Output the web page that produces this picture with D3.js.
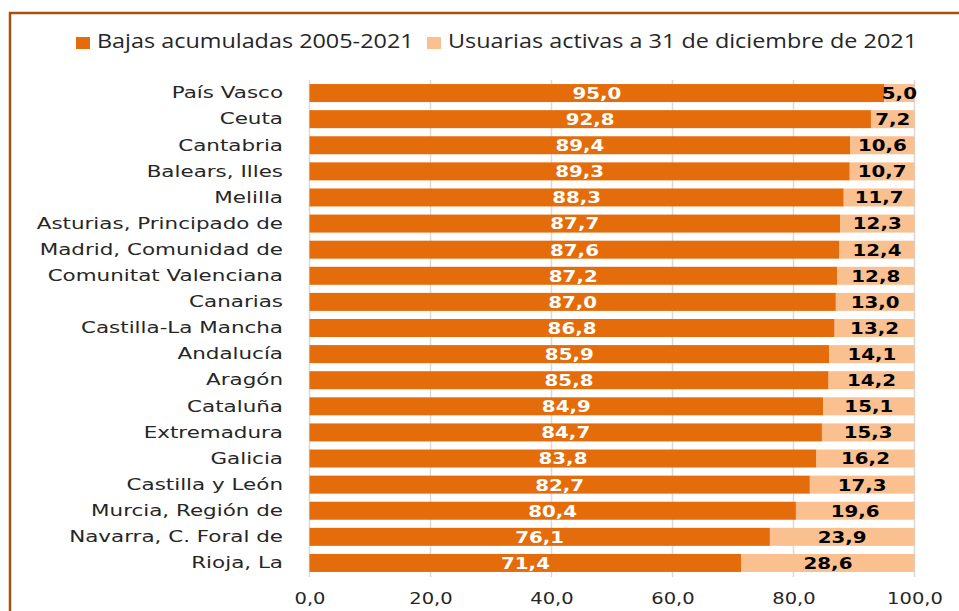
<!DOCTYPE html>
<html><head><meta charset="utf-8">
<script src="https://cdn.jsdelivr.net/npm/d3@7"></script>
<style>body{margin:0;background:#fff}svg{display:block}</style>
</head><body>
<script>
const categories = ["País Vasco","Ceuta","Cantabria","Balears, Illes","Melilla","Asturias, Principado de","Madrid, Comunidad de","Comunitat Valenciana","Canarias","Castilla-La Mancha","Andalucía","Aragón","Cataluña","Extremadura","Galicia","Castilla y León","Murcia, Región de","Navarra, C. Foral de","Rioja, La"];
const bajas = [95.0,92.8,89.4,89.3,88.3,87.7,87.6,87.2,87.0,86.8,85.9,85.8,84.9,84.7,83.8,82.7,80.4,76.1,71.4];
const activas = [5.0,7.2,10.6,10.7,11.7,12.3,12.4,12.8,13.0,13.2,14.1,14.2,15.1,15.3,16.2,17.3,19.6,23.9,28.6];
const seriesNames = ["Bajas acumuladas 2005-2021","Usuarias activas a 31 de diciembre de 2021"];
const tickValues = [0,20,40,60,80,100];

const W=959,H=611;
const colors=["#E46C0A","#FAC090"];
const svg=d3.select("body").append("svg").attr("width",W).attr("height",H);
svg.append("rect").attr("width",W).attr("height",H).attr("fill","#fff");
// border
svg.append("path").attr("d",`M10,${H+5} L10,13 L${W+5},13`).attr("fill","none").attr("stroke","#A5520F").attr("stroke-width",2.5);

const x=d3.scaleLinear().domain([0,100]).range([309.5,914.5]);
const y=d3.scaleBand().domain(categories).range([80,576]).paddingInner(0.31).paddingOuter(0.155);
const fmt=v=>v.toFixed(1).replace(".",",");

function stretch(sel,sx){
  sel.each(function(){
    const t=d3.select(this);
    const px=+t.attr("x")||0;
    t.attr("transform",`translate(${px},0) scale(${sx},1) translate(${-px},0)`);
  });
}

// gridlines
svg.append("g").selectAll("line").data(tickValues).join("line")
 .attr("x1",d=>x(d)).attr("x2",d=>x(d)).attr("y1",80).attr("y2",577)
 .attr("stroke","#D9D9D9").attr("stroke-width",1.5);

const g=svg.append("g");
const data=categories.map((c,i)=>({c,a:bajas[i],b:activas[i]}));
g.selectAll("rect.a").data(data).join("rect").attr("class","a")
 .attr("x",x(0)).attr("y",d=>y(d.c)).attr("width",d=>x(d.a)-x(0)).attr("height",y.bandwidth()).attr("fill",colors[0]);
g.selectAll("rect.b").data(data).join("rect").attr("class","b")
 .attr("x",d=>x(d.a)).attr("y",d=>y(d.c)).attr("width",d=>x(d.a+d.b)-x(d.a)).attr("height",y.bandwidth()).attr("fill",colors[1]);

const vf="'DejaVu Sans', Verdana, sans-serif";
g.selectAll("text.a").data(data).join("text").attr("class","a")
 .attr("x",d=>(x(0)+x(d.a))/2).attr("y",d=>y(d.c)+y.bandwidth()/2).attr("dy","0.37em")
 .attr("text-anchor","middle").attr("fill","#fff").attr("font-weight","bold")
 .attr("font-family",vf).attr("font-size",16).text(d=>fmt(d.a)).call(stretch,1.24);
g.selectAll("text.b").data(data).join("text").attr("class","b")
 .attr("x",d=>(x(d.a)+x(d.a+d.b))/2).attr("y",d=>y(d.c)+y.bandwidth()/2).attr("dy","0.37em")
 .attr("text-anchor","middle").attr("fill","#000").attr("font-weight","bold")
 .attr("font-family",vf).attr("font-size",16).text(d=>fmt(d.b)).call(stretch,1.24);

// y axis labels
const ya=svg.append("g").attr("transform",`translate(${x(0)-26.5},0)`)
 .call(d3.axisLeft(y).tickSize(0).tickPadding(0));
ya.select(".domain").remove();
ya.selectAll("text").attr("font-family",vf).attr("font-size",16.5).attr("fill","#262626").call(stretch,1.3);

// x axis
const xa=svg.append("g").attr("transform",`translate(0,592)`)
 .call(d3.axisBottom(x).tickValues(tickValues).tickFormat(fmt).tickSize(0).tickPadding(0));
xa.select(".domain").remove();
xa.selectAll("text").attr("font-family",vf).attr("font-size",16).attr("fill","#262626")
 .attr("dy","0.72em").call(stretch,1.22);

// legend
const lf="'Liberation Sans Narrow','Open Sans',sans-serif";
const leg=svg.append("g");
const items=[{x:76,t:seriesNames[0]},{x:427,t:seriesNames[1]}];
items.forEach((it,i)=>{
 leg.append("rect").attr("x",it.x).attr("y",37).attr("width",14).attr("height",12).attr("fill",colors[i]);
 leg.append("text").attr("x",it.x+21).attr("y",48.5).attr("font-family",lf).attr("font-size",20).attr("fill","#262626").text(it.t).call(stretch,1.17);
});
</script>
</body></html>
